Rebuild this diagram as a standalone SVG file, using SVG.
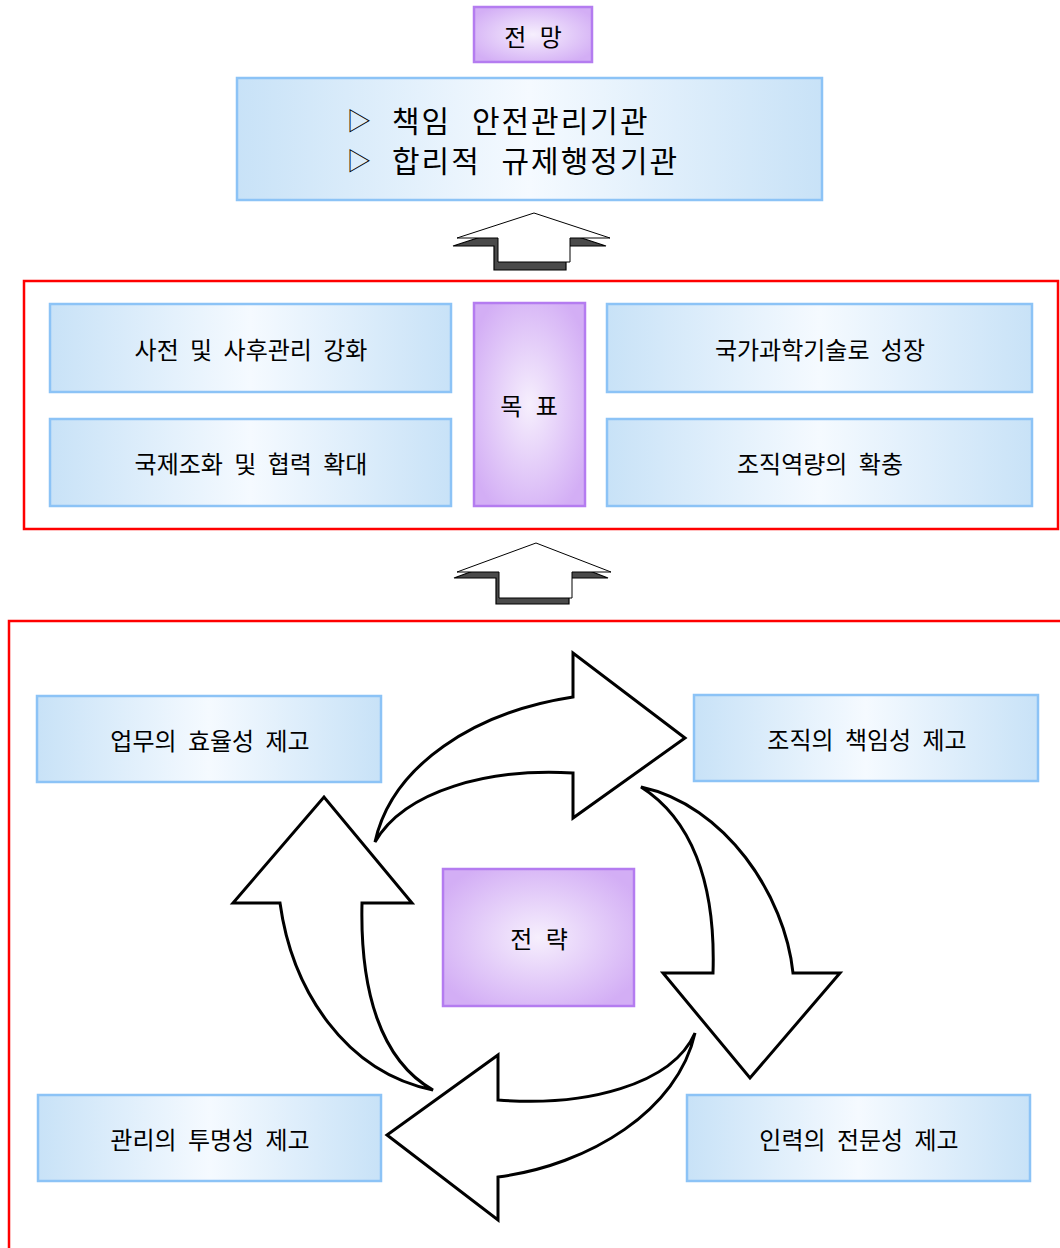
<svg xmlns="http://www.w3.org/2000/svg" width="1060" height="1248" viewBox="0 0 1060 1248">
<style>
text{font-family:"Noto Sans CJK KR","Noto Sans",sans-serif;fill:#000;text-anchor:middle;dominant-baseline:central}
.b{fill:url(#gb);stroke:#8cc3f6;stroke-width:2.5}
.p{fill:url(#gp);stroke:#b47cf0;stroke-width:2.5}
.lbl{font-size:24px;word-spacing:6px}
.tt{font-size:24px;word-spacing:8px}
.big{font-size:30px;letter-spacing:2px;word-spacing:12px;text-anchor:start}
.frame{fill:none;stroke:#ff0000;stroke-width:2.5}
.ca{fill:#fff;stroke:#000;stroke-width:3;stroke-linejoin:miter}
.sh{fill:#4a4a4a;stroke:#000;stroke-width:1.2}
.fr{fill:#fff;stroke:#000;stroke-width:1}
</style>
<defs>
<linearGradient id="gb" x1="0" y1="0" x2="1" y2="0">
<stop offset="0" stop-color="#c8e2f7"/><stop offset="0.5" stop-color="#f5faff"/><stop offset="1" stop-color="#c8e2f7"/>
</linearGradient>
<radialGradient id="gp" cx="0.5" cy="0.5" r="0.6">
<stop offset="0" stop-color="#f6effd"/><stop offset="1" stop-color="#d3aef5"/>
</radialGradient>
</defs>

<g id="frames">
<rect class="frame" x="24" y="281" width="1034" height="248"/>
<path class="frame" d="M9,1248 V621 H1062"/>
</g>

<g id="n-outlook"><rect class="p" x="474" y="7" width="118" height="55"/><text class="tt" x="533" y="35">전 망</text></g>
<g id="n-vision"><rect class="b" x="237" y="78" width="585" height="122"/>
<text x="359" y="119" font-size="25">▷</text><text class="big" x="392" y="119">책임 안전관리기관</text>
<text x="359" y="159" font-size="25">▷</text><text class="big" x="392" y="159">합리적 규제행정기관</text></g>

<g id="n-goal"><rect class="p" x="474" y="303" width="111" height="203"/><text class="tt" x="529" y="404">목 표</text></g>
<g id="n-g1"><rect class="b" x="50" y="304" width="401" height="88"/><text class="lbl" x="251" y="348">사전 및 사후관리 강화</text></g>
<g id="n-g2"><rect class="b" x="50" y="419" width="401" height="87"/><text class="lbl" x="251" y="462">국제조화 및 협력 확대</text></g>
<g id="n-g3"><rect class="b" x="607" y="304" width="425" height="88"/><text class="lbl" x="820" y="348">국가과학기술로 성장</text></g>
<g id="n-g4"><rect class="b" x="607" y="419" width="425" height="87"/><text class="lbl" x="820" y="462">조직역량의 확충</text></g>

<g id="n-strategy"><rect class="p" x="443" y="869" width="191" height="137"/><text class="tt" x="539" y="937">전 략</text></g>
<g id="n-s1"><rect class="b" x="37" y="696" width="344" height="86"/><text class="lbl" x="210" y="739">업무의 효율성 제고</text></g>
<g id="n-s2"><rect class="b" x="694" y="695" width="344" height="86"/><text class="lbl" x="867" y="738">조직의 책임성 제고</text></g>
<g id="n-s3"><rect class="b" x="38" y="1095" width="343" height="86"/><text class="lbl" x="210" y="1138">관리의 투명성 제고</text></g>
<g id="n-s4"><rect class="b" x="687" y="1095" width="343" height="86"/><text class="lbl" x="859" y="1138">인력의 전문성 제고</text></g>

<g id="connectors">
<g id="up1">
<polygon class="sh" points="530,221 606,246 566,246 566,270 494,270 494,246 453,246"/>
<polygon class="fr" points="534,213 610,238 570,238 570,262 498,262 498,238 457,238"/>
</g>
<g id="up2">
<polygon class="sh" points="533,549 608,578 569,578 569,604 496,604 496,578 454,578"/>
<polygon class="fr" points="536,543 611,572 572,572 572,598 499,598 499,572 457,572"/>
</g>
<path class="ca" d="M375,842 C392,765 475,712 573,697 L573,653 L685,738 L573,818 L573,773 C490,768 405,790 375,842 Z"/>
<path class="ca" d="M641,787 C725,805 785,895 793,973 L840,973 L750,1078 L663,973 L713,973 C716,880 690,818 641,787 Z"/>
<path class="ca" d="M433,1090 C345,1072 292,990 280,903 L233,903 L324,797 L412,903 L362,903 C360,990 380,1060 433,1090 Z"/>
<path class="ca" d="M695,1033 C672,1085 585,1107 498,1100 L498,1055 L387,1135 L498,1220 L498,1177 C590,1165 678,1110 695,1033 Z"/>
</g>
</svg>
